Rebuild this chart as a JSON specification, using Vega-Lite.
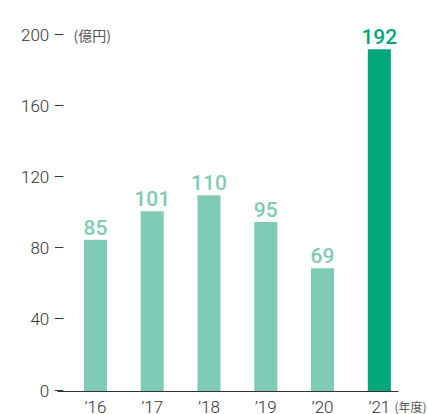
{
  "$schema": "https://vega.github.io/schema/vega-lite/v6.json",
  "autosize": "none",
  "width": 341,
  "height": 356,
  "padding": {"left": 57, "top": 35, "right": 30, "bottom": 23},
  "background": "white",
  "config": {"view": {"stroke": null}, "font": "Roboto"},
  "data": {"values": [
    {"year": "’16", "value": 85, "type": "past"},
    {"year": "’17", "value": 101, "type": "past"},
    {"year": "’18", "value": 110, "type": "past"},
    {"year": "’19", "value": 95, "type": "past"},
    {"year": "’20", "value": 69, "type": "past"},
    {"year": "’21", "value": 192, "type": "current"}
  ]},
  "encoding": {
    "x": {
      "field": "year", "type": "nominal", "sort": null,
      "scale": {"paddingInner": 0.594, "paddingOuter": 0.3, "align": 0.79},
      "axis": {
        "title": "(年度)", "titleAngle": 0, "titleAlign": "left", "titleBaseline": "middle",
        "titleX": 337, "titleY": 16, "titleFontSize": 12, "titleFontWeight": "normal", "titleColor": "#555555", "titleFont": "Noto Sans CJK JP",
        "labelAngle": 0, "labelFontSize": 17, "labelFontWeight": 300, "labelColor": "#333333",
        "labelPadding": 8, "labelBaseline": "top",
        "ticks": false, "domainColor": "#333333", "domainWidth": 1
      }
    },
    "y": {
      "field": "value", "type": "quantitative",
      "scale": {"domain": [0, 200]},
      "axis": {
        "values": [0, 40, 80, 120, 160, 200],
        "title": "(億円)", "titleAngle": 0, "titleAlign": "left", "titleBaseline": "middle",
        "titleX": 16, "titleY": 1, "titleFontSize": 14, "titleFontWeight": "normal", "titleColor": "#555555", "titleFont": "Noto Sans CJK JP",
        "labelFontSize": 17, "labelFontWeight": 300, "labelColor": "#333333",
        "labelPadding": -7, "tickSize": 0,
        "domain": false, "grid": false,
        "labelExpr": "datum.label + ' –'",
        "ticks": false
      }
    }
  },
  "layer": [
    {
      "mark": {"type": "bar"},
      "encoding": {
        "color": {"field": "type", "type": "nominal", "legend": null,
          "scale": {"domain": ["past", "current"], "range": ["#7fcbb5", "#00a77a"]}}
      }
    },
    {
      "mark": {"type": "text", "baseline": "alphabetic", "dy": -5, "fontSize": 21, "fontWeight": 500},
      "encoding": {
        "text": {"field": "value", "type": "quantitative"},
        "color": {"field": "type", "type": "nominal", "legend": null,
          "scale": {"domain": ["past", "current"], "range": ["#7fcbb5", "#00a77a"]}}
      }
    }
  ]
}
